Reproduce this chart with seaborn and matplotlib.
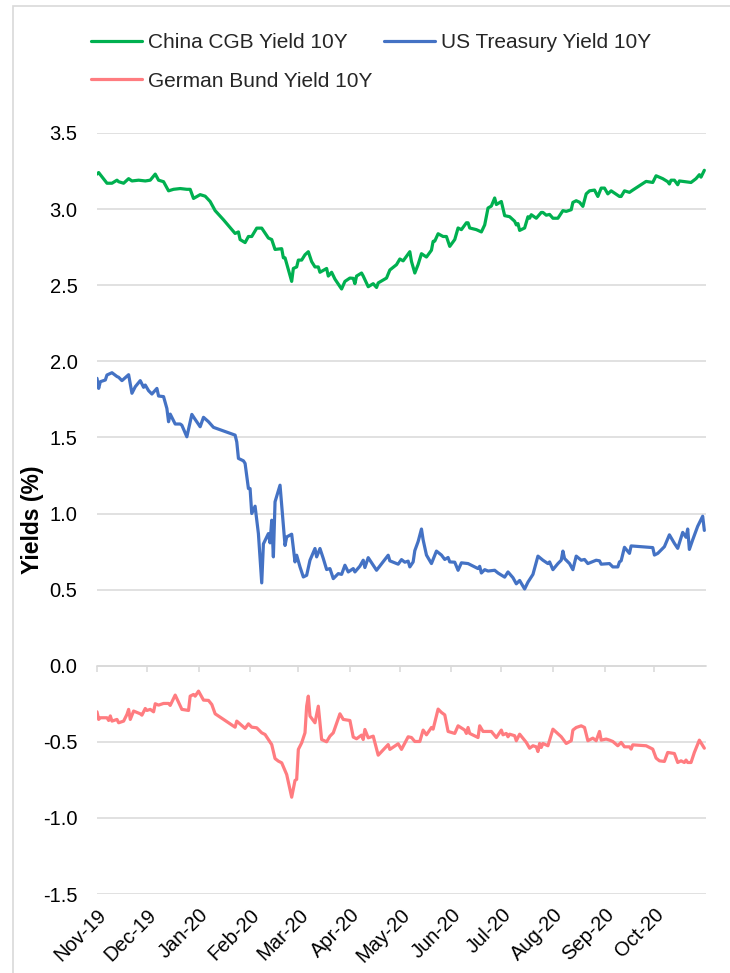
import pandas as pd
import matplotlib
matplotlib.use("Agg")
import matplotlib.pyplot as plt
from matplotlib.patches import Rectangle
from matplotlib.lines import Line2D
import seaborn as sns

# ---------------- data ----------------
START = "2019-11-01"   # day offsets below count from this date

cgb_day = [0, 1, 6, 9, 12, 13, 16, 19, 21, 25, 29, 32, 35, 37, 40, 43, 46, 50, 54, 56, 58, 62, 65, 68,
           71, 76, 83, 85, 86, 89, 91, 93, 96, 99, 103, 105, 107, 111, 112, 113, 117, 118, 120, 121,
           123, 125, 127, 129, 131, 133, 134, 138, 139, 141, 143, 147, 149, 152, 154, 155, 156, 159,
           160, 163, 166, 168, 169, 174, 176, 180, 182, 184, 188, 189, 191, 193, 195, 198, 201, 202,
           203, 205, 208, 210, 212, 215, 217, 219, 222, 223, 224, 228, 231, 233, 235, 237, 239, 240,
           243, 245, 248, 251, 252, 253, 254, 257, 259, 260, 261, 264, 267, 268, 270, 272, 274, 277,
           280, 282, 285, 286, 288, 290, 292, 294, 296, 299, 301, 303, 305, 307, 309, 314, 315, 317,
           320, 322, 330, 334, 336, 340, 343, 344, 345, 347, 349, 350, 357, 360, 362, 363, 365]
cgb_yield = [3.23, 3.24, 3.17, 3.17, 3.19, 3.18, 3.17, 3.20, 3.185, 3.19, 3.185, 3.19, 3.23, 3.19, 3.18,
             3.12, 3.13, 3.135, 3.13, 3.13, 3.07, 3.095, 3.085, 3.05, 2.99, 2.93, 2.84, 2.85, 2.80, 2.78,
             2.82, 2.82, 2.875, 2.875, 2.81, 2.80, 2.735, 2.74, 2.68, 2.68, 2.525, 2.61, 2.62, 2.665,
             2.665, 2.70, 2.72, 2.655, 2.62, 2.62, 2.585, 2.61, 2.56, 2.585, 2.54, 2.475, 2.525, 2.547,
             2.545, 2.51, 2.56, 2.58, 2.56, 2.49, 2.51, 2.485, 2.515, 2.547, 2.60, 2.635, 2.672, 2.66,
             2.72, 2.656, 2.58, 2.636, 2.707, 2.685, 2.73, 2.788, 2.79, 2.838, 2.82, 2.82, 2.755, 2.80,
             2.876, 2.865, 2.91, 2.91, 2.876, 2.865, 2.85, 2.896, 3.007, 3.02, 3.073, 3.03, 3.05, 2.957,
             2.95, 2.92, 2.896, 2.905, 2.86, 2.876, 2.95, 2.94, 2.963, 2.94, 2.978, 2.978, 2.96, 2.965,
             2.94, 2.94, 2.99, 2.985, 2.996, 3.044, 3.055, 3.045, 3.018, 3.10, 3.12, 3.125, 3.083, 3.138,
             3.138, 3.10, 3.12, 3.083, 3.083, 3.12, 3.11, 3.125, 3.182, 3.175, 3.219, 3.20, 3.18, 3.165,
             3.19, 3.19, 3.16, 3.185, 3.175, 3.20, 3.226, 3.21, 3.255]

ust_day = [0, 1, 2, 5, 6, 9, 12, 13, 15, 19, 21, 23, 26, 28, 29, 31, 33, 36, 37, 40, 42, 43, 44, 47,
           50, 51, 54, 57, 59, 62, 64, 67, 70, 83, 84, 85, 88, 89, 91, 92, 93, 95, 97, 99, 100, 103,
           104, 105, 106, 107, 110, 113, 114, 117, 119, 120, 122, 124, 126, 128, 131, 132, 134, 136,
           138, 140, 142, 145, 147, 149, 151, 154, 155, 158, 160, 161, 163, 168, 175, 176, 181, 183,
           185, 187, 188, 190, 191, 193, 195, 196, 198, 201, 204, 207, 209, 211, 212, 215, 217, 219,
           223, 225, 229, 230, 231, 233, 235, 239, 241, 245, 247, 250, 252, 254, 257, 259, 262, 265,
           268, 271, 272, 274, 277, 279, 280, 281, 284, 286, 288, 291, 293, 295, 300, 302, 303, 308,
           310, 313, 314, 315, 317, 320, 321, 334, 335, 337, 341, 344, 347, 349, 352, 354, 355, 356,
           358, 361, 364, 365]
ust_yield = [1.888, 1.822, 1.866, 1.877, 1.91, 1.925, 1.90, 1.895, 1.873, 1.912, 1.79, 1.833, 1.873,
             1.829, 1.844, 1.807, 1.785, 1.822, 1.772, 1.768, 1.69, 1.603, 1.653, 1.588, 1.588, 1.58,
             1.504, 1.651, 1.618, 1.57, 1.632, 1.603, 1.566, 1.515, 1.47, 1.362, 1.346, 1.329, 1.164,
             1.164, 1.0, 1.048, 0.868, 0.544, 0.80, 0.868, 0.807, 0.956, 0.715, 1.077, 1.186, 0.79,
             0.846, 0.864, 0.682, 0.726, 0.649, 0.583, 0.594, 0.693, 0.77, 0.715, 0.77, 0.704, 0.632,
             0.638, 0.572, 0.605, 0.60, 0.66, 0.616, 0.638, 0.616, 0.654, 0.693, 0.645, 0.71, 0.627,
             0.726, 0.689, 0.667, 0.697, 0.68, 0.687, 0.649, 0.682, 0.756, 0.816, 0.898, 0.827, 0.727,
             0.671, 0.753, 0.727, 0.698, 0.711, 0.682, 0.68, 0.627, 0.676, 0.671, 0.66, 0.638, 0.653,
             0.609, 0.631, 0.622, 0.627, 0.609, 0.582, 0.616, 0.578, 0.538, 0.56, 0.504, 0.549, 0.60,
             0.72, 0.693, 0.671, 0.682, 0.631, 0.671, 0.693, 0.753, 0.704, 0.671, 0.631, 0.72, 0.693,
             0.698, 0.671, 0.693, 0.689, 0.667, 0.671, 0.649, 0.649, 0.682, 0.689, 0.778, 0.738, 0.787,
             0.776, 0.727, 0.738, 0.782, 0.86, 0.804, 0.771, 0.876, 0.844, 0.898, 0.764, 0.827, 0.916,
             0.982, 0.889]

bund_day = [0, 1, 2, 6, 7, 8, 9, 12, 13, 16, 18, 19, 20, 22, 26, 27, 29, 30, 32, 34, 35, 37, 40, 43,
            44, 47, 51, 55, 56, 58, 59, 61, 64, 67, 69, 71, 83, 84, 89, 91, 93, 96, 99, 101, 103, 105,
            107, 109, 111, 114, 117, 119, 120, 121, 123, 125, 126, 127, 128, 131, 133, 135, 138, 140,
            142, 146, 148, 152, 154, 156, 159, 160, 161, 163, 166, 169, 175, 176, 181, 183, 187, 189,
            191, 194, 196, 198, 201, 202, 205, 207, 209, 211, 215, 217, 221, 222, 223, 224, 229, 230,
            232, 237, 240, 243, 244, 246, 247, 248, 251, 252, 254, 258, 260, 262, 264, 265, 266, 267,
            268, 271, 274, 279, 282, 285, 286, 288, 291, 293, 295, 298, 300, 302, 303, 306, 308, 310,
            313, 315, 317, 320, 321, 322, 330, 334, 336, 338, 341, 343, 347, 349, 351, 353, 354, 355,
            357, 359, 362, 365]
bund_yield = [-0.303, -0.353, -0.342, -0.342, -0.36, -0.33, -0.364, -0.353, -0.375, -0.364, -0.32,
              -0.287, -0.353, -0.298, -0.316, -0.325, -0.281, -0.294, -0.287, -0.303, -0.25, -0.259,
              -0.248, -0.248, -0.261, -0.193, -0.287, -0.294, -0.2, -0.189, -0.2, -0.167, -0.226,
              -0.228, -0.255, -0.316, -0.404, -0.364, -0.412, -0.382, -0.404, -0.408, -0.441, -0.452,
              -0.485, -0.518, -0.61, -0.627, -0.638, -0.715, -0.864, -0.754, -0.747, -0.55, -0.507,
              -0.441, -0.266, -0.2, -0.331, -0.375, -0.266, -0.485, -0.5, -0.463, -0.441, -0.316,
              -0.353, -0.36, -0.469, -0.48, -0.456, -0.485, -0.419, -0.474, -0.463, -0.588, -0.518,
              -0.55, -0.513, -0.55, -0.467, -0.472, -0.498, -0.498, -0.423, -0.454, -0.406, -0.417,
              -0.285, -0.307, -0.323, -0.432, -0.445, -0.395, -0.423, -0.445, -0.406, -0.445, -0.472,
              -0.395, -0.432, -0.432, -0.472, -0.423, -0.454, -0.445, -0.467, -0.45, -0.46, -0.493,
              -0.45, -0.504, -0.542, -0.526, -0.533, -0.564, -0.511, -0.537, -0.511, -0.526, -0.417,
              -0.467, -0.511, -0.493, -0.423, -0.406, -0.395, -0.406, -0.493, -0.476, -0.493, -0.432,
              -0.489, -0.482, -0.489, -0.498, -0.526, -0.504, -0.533, -0.533, -0.548, -0.52, -0.526,
              -0.548, -0.607, -0.625, -0.629, -0.57, -0.577, -0.636, -0.625, -0.636, -0.62, -0.636,
              -0.636, -0.57, -0.489, -0.542]

series_names = ["China CGB Yield 10Y", "US Treasury Yield 10Y", "German Bund Yield 10Y"]
series_colors = ["#00B050", "#4472C4", "#FF7C80"]
month_starts = ["2019-11-01", "2019-12-01", "2020-01-01", "2020-02-01", "2020-03-01", "2020-04-01",
                "2020-05-01", "2020-06-01", "2020-07-01", "2020-08-01", "2020-09-01", "2020-10-01"]
month_labels = ["Nov-19", "Dec-19", "Jan-20", "Feb-20", "Mar-20", "Apr-20",
                "May-20", "Jun-20", "Jul-20", "Aug-20", "Sep-20", "Oct-20"]
x_range = ["2019-11-01", "2020-11-01"]
y_ticks = [-1.5, -1.0, -0.5, 0.0, 0.5, 1.0, 1.5, 2.0, 2.5, 3.0, 3.5]
y_tick_labels = ["-1.5", "-1.0", "-0.5", "0.0", "0.5", "1.0", "1.5", "2.0", "2.5", "3.0", "3.5"]
y_label = "Yields (%)"

# ---------------- build table ----------------
frames = []
for name, d, v in zip(series_names, [cgb_day, ust_day, bund_day], [cgb_yield, ust_yield, bund_yield]):
    frames.append(pd.DataFrame({
        "date": pd.Timestamp(START) + pd.to_timedelta(d, unit="D"),
        "yield": v,
        "series": name,
    }))
df = pd.concat(frames, ignore_index=True)

# ---------------- style ----------------
sns.set_theme(style="white")
plt.rcParams["font.family"] = ["Liberation Sans", "DejaVu Sans"]
GRID = "#D9D9D9"
TEXT = "#000000"

W, H = 730, 973
fig = plt.figure(figsize=(W / 100, H / 100), dpi=100)
ax = fig.add_axes([97 / W, 1 - 894 / H, (706 - 97) / W, (894 - 133) / H])

palette = dict(zip(series_names, series_colors))
sns.lineplot(data=df, x="date", y="yield", hue="series", hue_order=series_names,
             palette=palette, estimator=None, sort=False, linewidth=2.3,
             ax=ax, legend=False)

ax.set_xlim(pd.Timestamp(x_range[0]), pd.Timestamp(x_range[1]))
ax.set_ylim(y_ticks[0], y_ticks[-1])
ax.set_yticks(y_ticks)
ax.set_yticklabels(y_tick_labels)
ticks = pd.to_datetime(month_starts)
ax.set_xticks(ticks)
ax.set_xticklabels(month_labels, rotation=45, ha="right", rotation_mode="anchor")
ax.tick_params(axis="both", length=0, labelsize=14.5, colors=TEXT)
ax.tick_params(axis="y", pad=14)
ax.tick_params(axis="x", pad=8)
ax.set_xlabel("")
ax.set_ylabel("")
ax.yaxis.grid(True, color=GRID, linewidth=1.1)
ax.xaxis.grid(False)
ax.set_axisbelow(True)
for s in ax.spines.values():
    s.set_visible(False)

# category axis crossing at zero, with small month ticks
sec = ax.secondary_xaxis(0, transform=ax.transData)
sec.set_xticks(ticks)
sec.tick_params(axis="x", direction="out", length=4, width=1.1, color=GRID, labelbottom=False)
sec.spines["bottom"].set_color(GRID)
sec.spines["bottom"].set_linewidth(1.1)

# y label
fig.text(33 / W, 1 - 520 / H, y_label, rotation=90, fontsize=16.5, fontweight="bold",
         ha="center", va="center", color=TEXT)

# legend: row 1 China / US, row 2 German
handles = [Line2D([], [], color=c, linewidth=2.3) for c in series_colors]
order = [0, 2, 1]
fig.legend([handles[i] for i in order], [series_names[i] for i in order],
           loc="upper left", bbox_to_anchor=(91 / W, 1 - 33 / H), ncol=2, frameon=False,
           fontsize=15, handlelength=2.45, handletextpad=0.3, columnspacing=0.55,
           labelspacing=0.95, borderpad=0, borderaxespad=0)

# chart-area border (cut off at right/bottom as in the reference)
fig.patches.append(Rectangle((13 / W, -0.05), 1.0, 1 - 6 / H + 0.05, transform=fig.transFigure,
                             fill=False, edgecolor=GRID, linewidth=1.2))

fig.savefig("out.png", dpi=100)
